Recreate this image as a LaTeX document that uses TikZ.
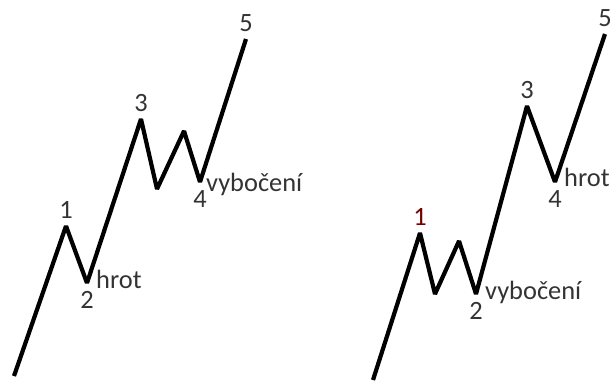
\documentclass[tikz,border=0pt]{standalone}
\usepackage{fontspec}
\setmainfont{Carlito}
\usetikzlibrary{positioning}
\tikzstyle{wave} = [line width=4.2bp, line join=miter, miter limit=2, black]
\tikzstyle{num} = [inner sep=0pt, text=black!80, font=\fontsize{26.5}{27}\selectfont]
\tikzstyle{note} = [num, anchor=west]

\begin{document}
\begin{tikzpicture}[x=1bp, y=-1bp]
        \useasboundingbox (0,0) rectangle (612,381);
        % left wave
        \coordinate (l0) at (14,376);
        \coordinate (l1) at (66,226);
        \coordinate (l2) at (87,283);
        \coordinate (l3) at (141,119);
        \coordinate (la) at (157,189);
        \coordinate (lb) at (184,131);
        \coordinate (l4) at (200,182);
        \coordinate (l5) at (246,39);
        \draw[wave] (l0) -- (l1) -- (l2) -- (l3) -- (la) -- (lb) -- (l4) -- (l5);
        \node[num, above=7bp of l1] (n1) {1};
        \node[num, below=8bp of l2] (n2) {2};
        \node[num, above=7bp of l3] (n3) {3};
        \node[num, below=8bp of l4] (n4) {4};
        \node[num, above=7bp of l5] (n5) {5};
        \node[note] (hrotl) at (96,279) {hrot};
        \node[note] (vybl) at (206,184) {vybočení};
        % right wave
        \coordinate (r0) at (373,380);
        \coordinate (r1) at (420,233);
        \coordinate (ra) at (435,294);
        \coordinate (rb) at (459,241);
        \coordinate (r2) at (476,294);
        \coordinate (r3) at (527,106);
        \coordinate (r4) at (555,182);
        \coordinate (r5) at (605,34);
        \draw[wave] (r0) -- (r1) -- (ra) -- (rb) -- (r2) -- (r3) -- (r4) -- (r5);
        \node[num, above=7bp of r1, text=red!45!black] (m1) {1};
        \node[num, below=8bp of r2] (m2) {2};
        \node[num, above=7bp of r3] (m3) {3};
        \node[num, below=8bp of r4] (m4) {4};
        \node[num, above=7bp of r5] (m5) {5};
        \node[note] (hrotr) at (564,177) {hrot};
        \node[note] (vybr) at (485,292) {vybočení};
\end{tikzpicture}
\end{document}
